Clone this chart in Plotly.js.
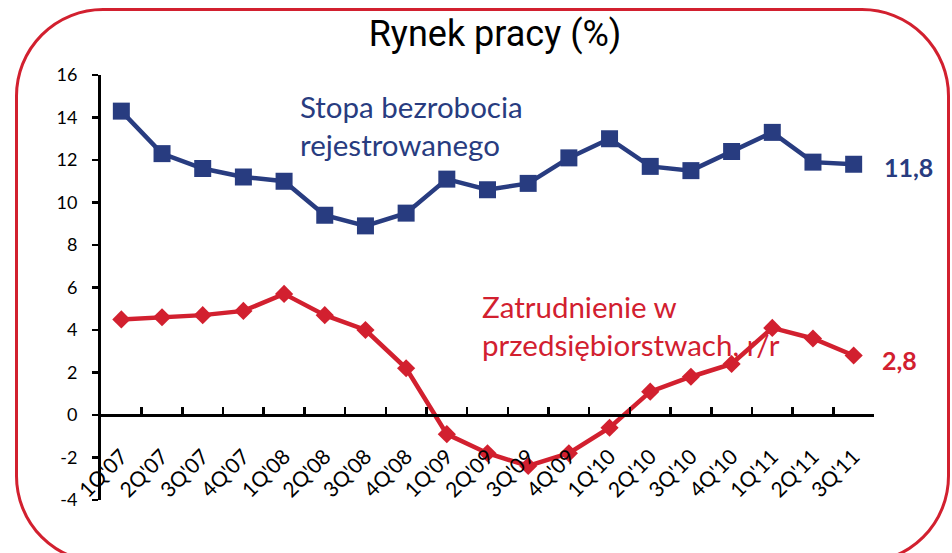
<!DOCTYPE html>
<html>
<head>
<meta charset="utf-8">
<script src="https://cdn.plot.ly/plotly-3.0.1.min.js"></script>
<style>
  html, body { margin: 0; padding: 0; width: 952px; height: 553px; overflow: hidden; background: #ffffff; }
  #frame { position: absolute; left: 15px; top: 8px; width: 935px; height: 556px; box-sizing: border-box;
           border: 3px solid #d2202f; border-radius: 88px; z-index: 0; }
  #chart { position: absolute; left: 0; top: 0; width: 952px; height: 553px; z-index: 1; }
</style>
</head>
<body>
<div id="frame"></div>
<div id="chart"></div>
<script>
// ---- data ----
const categories = ["1Q'07","2Q'07","3Q'07","4Q'07","1Q'08","2Q'08","3Q'08","4Q'08",
                    "1Q'09","2Q'09","3Q'09","4Q'09","1Q'10","2Q'10","3Q'10","4Q'10",
                    "1Q'11","2Q'11","3Q'11"];
const unemployment = [14.3,12.3,11.6,11.2,11.0,9.4,8.9,9.5,11.1,10.6,10.9,12.1,13.0,11.7,11.5,12.4,13.3,11.9,11.8];
const employment   = [4.5,4.6,4.7,4.9,5.7,4.7,4.0,2.2,-0.9,-1.8,-2.4,-1.8,-0.6,1.1,1.8,2.4,4.1,3.6,2.8];
const yTicks = [-4,-2,0,2,4,6,8,10,12,14,16];
const chartTitle = "Rynek pracy (%)";
const unemploymentLabel = ["Stopa bezrobocia", "rejestrowanego"];
const employmentLabel = ["Zatrudnienie w", "przedsiębiorstwach, r/r"];

const BLUE = '#283c80';
const RED = '#d2202f';
const fmt = v => v.toFixed(1).replace('.', ',');
const last = categories.length - 1;

const traces = [
  { x: categories, y: unemployment, type: 'scatter', mode: 'lines+markers', name: unemploymentLabel.join(' '),
    line: { color: BLUE, width: 4.5 }, marker: { symbol: 'square', size: 17, color: BLUE } },
  { x: categories, y: employment, type: 'scatter', mode: 'lines+markers', name: employmentLabel.join(' '),
    line: { color: RED, width: 4.5 }, marker: { symbol: 'diamond', size: 14, color: RED } }
];

const labelFont = (c) => ({ family: 'Lato, "Open Sans", sans-serif', size: 29.5, color: c });
const annotations = [
  { xref: 'paper', yref: 'paper', x: 0.2549, y: 0.881, xanchor: 'left', yanchor: 'middle', align: 'left',
    showarrow: false, text: unemploymentLabel.join('<br>'), font: labelFont(BLUE) },
  { xref: 'paper', yref: 'paper', x: 0.4903, y: 0.411, xanchor: 'left', yanchor: 'middle', align: 'left',
    showarrow: false, text: employmentLabel.join('<br>'), font: labelFont(RED) },
  { x: categories[last], y: unemployment[last], xanchor: 'left', yanchor: 'middle', xshift: 28, yshift: -3,
    showarrow: false, text: '<b>' + fmt(unemployment[last]) + '</b>',
    font: { family: 'Lato, sans-serif', size: 25, color: BLUE } },
  { x: categories[last], y: employment[last], xanchor: 'left', yanchor: 'middle', xshift: 26, yshift: -4,
    showarrow: false, text: '<b>' + fmt(employment[last]) + '</b>',
    font: { family: 'Lato, sans-serif', size: 25, color: RED } }
];

const layout = {
  width: 952, height: 553,
  margin: { l: 101, r: 78, t: 75, b: 53 },
  paper_bgcolor: 'rgba(0,0,0,0)', plot_bgcolor: 'rgba(0,0,0,0)',
  showlegend: false,
  title: { text: chartTitle, xref: 'container', yref: 'container', x: 0.52, y: 0.94,
           xanchor: 'center', yanchor: 'middle',
           font: { family: 'Roboto, "Noto Sans", sans-serif', size: 36, color: '#000' } },
  xaxis: {
    type: 'category', range: [-0.5, categories.length - 0.5],
    anchor: 'free', position: 4 / 20,
    showline: true, linecolor: '#000', linewidth: 3,
    ticks: 'inside', tickson: 'boundaries', ticklen: 7, tickwidth: 2.5, tickcolor: '#000',
    tickangle: -45, ticklabelstandoff: 19,
    tickfont: { family: 'Lato, sans-serif', size: 21, color: '#000' },
    showgrid: false, zeroline: false, fixedrange: true
  },
  yaxis: {
    range: [-4, 16], tickvals: yTicks, ticktext: yTicks.map(String),
    showline: true, linecolor: '#000', linewidth: 3,
    ticks: 'outside', ticklen: 6, tickwidth: 2.5, tickcolor: '#000', ticklabelstandoff: 11,
    tickfont: { family: 'Lato, sans-serif', size: 18, color: '#000' },
    showgrid: false, zeroline: false, fixedrange: true
  },
  annotations: annotations
};

Plotly.newPlot('chart', traces, layout, { displayModeBar: false, staticPlot: true });
</script>
</body>
</html>
